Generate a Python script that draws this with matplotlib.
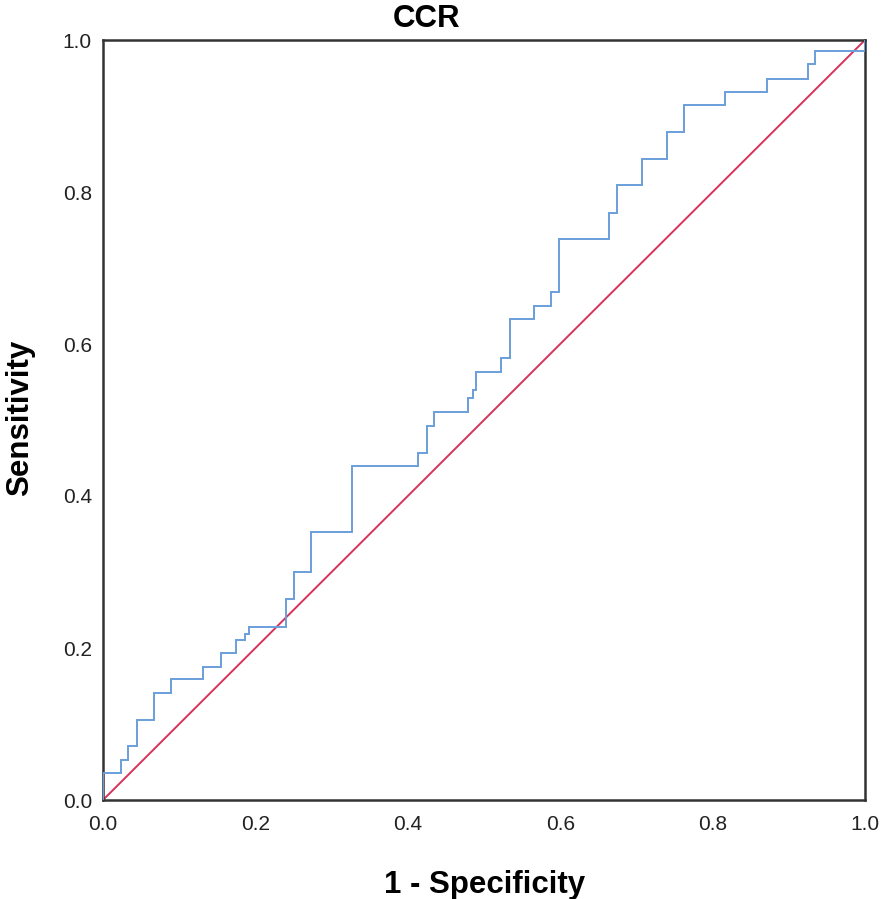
import matplotlib
matplotlib.use("Agg")
import matplotlib.pyplot as plt

# ROC step curve: x position of each jump and the sensitivity reached there
fpr = [0.0, 0.0, 0.023, 0.033, 0.044, 0.067, 0.089, 0.131, 0.155, 0.175, 0.186,
       0.192, 0.240, 0.251, 0.2725, 0.327, 0.414, 0.425, 0.435, 0.479, 0.485,
       0.489, 0.522, 0.534, 0.566, 0.588, 0.598, 0.664, 0.675, 0.707, 0.740,
       0.762, 0.816, 0.871, 0.925, 0.935, 1.0]
tpr = [0.0, 0.036, 0.053, 0.071, 0.105, 0.141, 0.159, 0.175, 0.194, 0.210, 0.219,
       0.228, 0.264, 0.300, 0.352, 0.440, 0.457, 0.492, 0.510, 0.529, 0.539,
       0.563, 0.581, 0.633, 0.650, 0.668, 0.738, 0.773, 0.809, 0.844, 0.879,
       0.914, 0.932, 0.949, 0.968, 0.985, 1.0]
ref_x = [0.0, 1.0]
ref_y = [0.0, 1.0]
ticks = [0.0, 0.2, 0.4, 0.6, 0.8, 1.0]
tick_labels = ["0.0", "0.2", "0.4", "0.6", "0.8", "1.0"]
title = "CCR"
xlabel = "1 - Specificity"
ylabel = "Sensitivity"

font = "Liberation Sans"

fig = plt.figure(figsize=(8.86, 8.99), dpi=100)
ax = fig.add_axes([103/886, 1-800/899, 762/886, 760/899])

# build step path: horizontal then vertical
xs, ys = [fpr[0]], [tpr[0]]
for i in range(1, len(fpr)):
    xs.append(fpr[i]); ys.append(tpr[i-1])
    xs.append(fpr[i]); ys.append(tpr[i])
ax.plot(xs, ys, color="#6a9fdc", lw=1.4, solid_joinstyle="miter", zorder=3)
ax.plot(ref_x, ref_y, color="#d7325a", lw=1.4, zorder=2)

ax.set_xlim(0, 1)
ax.set_ylim(0, 1)
ax.set_xticks(ticks)
ax.set_yticks(ticks)
ax.set_xticklabels(tick_labels, fontfamily=font, fontsize=15, color="#222222")
ax.set_yticklabels(tick_labels, fontfamily=font, fontsize=15, color="#222222")
ax.tick_params(length=0)
ax.tick_params(axis="x", pad=11)
ax.tick_params(axis="y", pad=8)
for lab in ax.get_yticklabels():
    lab.set_va("center_baseline")
for s in ax.spines.values():
    s.set_linewidth(1.8)
    s.set_color("#333333")

fig.text(427/886, 1-27/899, title, ha="center", va="baseline",
         fontfamily=font, fontweight="bold", fontsize=22.5)
fig.text(485/886, 1-893/899, xlabel, ha="center", va="baseline",
         fontfamily=font, fontweight="bold", fontsize=22.5)
fig.text(20/886, 1-418/899, ylabel, ha="center", va="center", rotation=90,
         fontfamily=font, fontweight="bold", fontsize=22.5)

fig.savefig("out.png", dpi=100, facecolor="white")
